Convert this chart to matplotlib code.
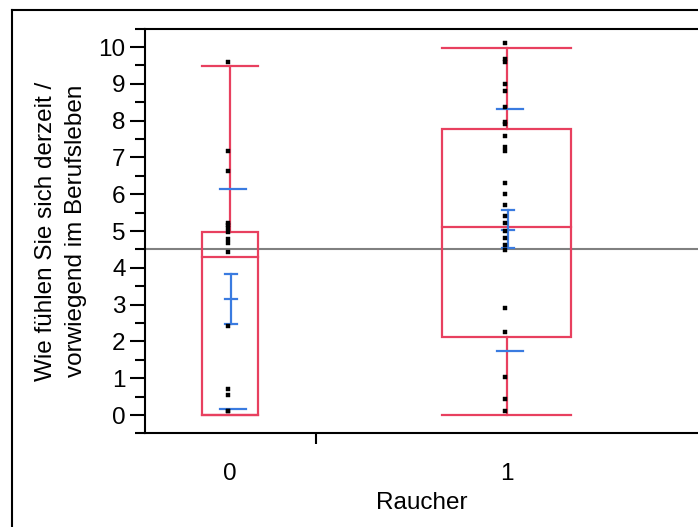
import matplotlib
matplotlib.use("Agg")
import matplotlib.pyplot as plt
from matplotlib.patches import Rectangle
from matplotlib.lines import Line2D

plt.rcParams['font.family'] = ['Liberation Sans', 'DejaVu Sans']

# ---- data ----
categories = ["0", "1"]
points_0 = [9.60, 7.17, 6.63, 5.23, 5.15, 5.07, 4.98, 4.78, 4.67, 4.44,
            2.43, 0.72, 0.53, 0.12, 0.10]
points_1 = [10.10, 9.67, 9.60, 8.99, 8.81, 8.38, 7.96, 7.90, 7.59, 7.29,
            7.18, 6.31, 6.01, 5.71, 5.41, 5.23, 5.00, 4.80, 4.62, 4.48,
            2.92, 2.25, 1.02, 0.43, 0.12]
whisk_lo = [0.0, 0.0]
q1 = [0.0, 2.13]
median = [4.30, 5.10]
q3 = [4.96, 7.78]
whisk_hi = [9.48, 9.96]
means = [3.15, 5.04]
se_lo = [2.48, 4.55]
se_hi = [3.82, 5.58]
sd_lo = [0.16, 1.75]
sd_hi = [6.14, 8.32]
grand_mean = 4.5
box_widths = [0.20, 0.466]
yticks = list(range(0, 11))

RED = '#E8405F'
BLUE = '#3A7BE0'
FS = 17.5

W, H = 698, 527
fig = plt.figure(figsize=(W / 100, H / 100), dpi=100)
ax = fig.add_axes([145 / W, (H - 433.4) / H, 553 / W, (433.4 - 28.6) / H])

# outer frame (left and top edges)
fig.add_artist(Line2D([12 / W, 12 / W], [0, 1 - 10 / H], transform=fig.transFigure,
                      color='black', lw=1.5))
fig.add_artist(Line2D([12 / W, 1], [1 - 10 / H, 1 - 10 / H], transform=fig.transFigure,
                      color='black', lw=1.5))

ax.set_xlim(-0.307, 1.69)
ax.set_ylim(-0.5, 10.5)

# grand mean line
ax.axhline(grand_mean, color='#808080', lw=1.5, zorder=1)

pts = [points_0, points_1]
for i in range(2):
    w = box_widths[i]
    # box
    ax.add_patch(Rectangle((i - w / 2, q1[i]), w, q3[i] - q1[i], fill=False,
                           edgecolor=RED, lw=1.6, zorder=2))
    ax.plot([i - w / 2, i + w / 2], [median[i], median[i]], color=RED, lw=1.6, zorder=2)
    # whiskers
    ax.plot([i, i], [q3[i], whisk_hi[i]], color=RED, lw=1.6, zorder=2)
    ax.plot([i, i], [whisk_lo[i], q1[i]], color=RED, lw=1.6, zorder=2)
    ax.plot([i - w / 2, i + w / 2], [whisk_hi[i], whisk_hi[i]], color=RED, lw=1.6, zorder=2)
    ax.plot([i - w / 2, i + w / 2], [whisk_lo[i], whisk_lo[i]], color=RED, lw=1.6, zorder=2)
    # mean / SE / SD
    c = i + 0.004
    ax.plot([c, c], [se_lo[i], se_hi[i]], color=BLUE, lw=1.6, zorder=3)
    for v in (se_lo[i], means[i], se_hi[i]):
        ax.plot([c - 0.023, c + 0.023], [v, v], color=BLUE, lw=1.6, zorder=3)
    for v in (sd_lo[i], sd_hi[i]):
        ax.plot([c - 0.047 + 0.006, c + 0.047 + 0.006], [v, v], color=BLUE, lw=1.6, zorder=3)
    # points
    ax.plot([i - 0.008] * len(pts[i]), pts[i], 's', color='black', ms=3.0,
            mec='black', mew=0.3, zorder=4, linestyle='none')

# axes styling
ax.spines['right'].set_visible(False)
for s in ('left', 'top', 'bottom'):
    ax.spines[s].set_linewidth(1.5)

ax.set_yticks(yticks)
ax.set_yticks([v + 0.5 for v in range(-1, 11)], minor=True)
ax.tick_params(axis='y', which='major', length=11, width=1.5, labelsize=FS, pad=3)
ax.tick_params(axis='y', which='minor', length=7, width=1.5)

ax.set_xticks([0, 1])
ax.set_xticklabels(categories)
ax.set_xticks([0.31], minor=True)
ax.tick_params(axis='x', which='major', length=0, labelsize=FS, pad=21)
ax.tick_params(axis='x', which='minor', length=8, width=1.5)

ax.set_xlabel("Raucher", fontsize=FS, labelpad=5)
ax.set_ylabel("Wie fühlen Sie sich derzeit /\nvorwiegend im Berufsleben", fontsize=FS,
              labelpad=8, linespacing=1.5)

fig.savefig("out.png", dpi=100)
